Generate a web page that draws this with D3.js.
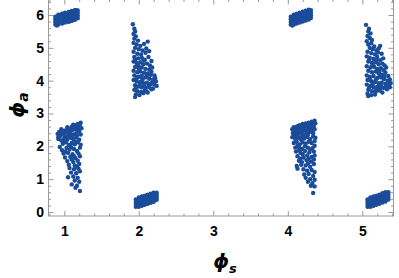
<!DOCTYPE html>
<html><head><meta charset="utf-8">
<script src="https://cdn.jsdelivr.net/npm/d3@7"></script>
<style>body{margin:0;background:#fff}svg{display:block}</style>
</head><body><script>
// ---- data ----
const blobA = [[0.88,5.71],[0.88,5.79],[0.88,5.87],[0.88,5.95],[0.92,5.74],[0.92,5.82],[0.92,5.90],[0.92,5.98],[0.97,5.77],[0.97,5.85],[0.97,5.93],[0.97,6.01],[1.01,5.80],[1.01,5.88],[1.01,5.96],[1.01,6.04],[1.06,5.82],[1.06,5.90],[1.06,5.98],[1.06,6.06],[1.10,5.85],[1.10,5.93],[1.10,6.01],[1.10,6.09],[1.14,5.88],[1.14,5.96],[1.14,6.04],[1.14,6.12],[1.18,5.90],[1.18,5.98],[1.18,6.06],[1.18,6.14],[0.90,5.68],[1.16,6.15],
 [0.92,5.71],[0.92,6.01],[0.97,5.74],[0.97,6.04],[1.01,5.77],[1.01,6.07],[1.06,5.79],[1.06,6.09],[1.10,5.82],[1.10,6.12],[1.14,5.85],[1.14,6.15]];
const blobE = [[4.04,5.71],[4.04,5.79],[4.04,5.87],[4.04,5.95],[4.08,5.74],[4.08,5.82],[4.08,5.90],[4.08,5.98],[4.12,5.77],[4.12,5.85],[4.12,5.93],[4.12,6.01],[4.16,5.80],[4.16,5.88],[4.16,5.96],[4.16,6.04],[4.20,5.83],[4.20,5.91],[4.20,5.99],[4.20,6.07],[4.24,5.86],[4.24,5.94],[4.24,6.02],[4.24,6.10],[4.28,5.89],[4.28,5.97],[4.28,6.05],[4.28,6.13],[4.31,5.91],[4.31,5.99],[4.31,6.07],[4.31,6.15],[4.06,5.68],
 [4.08,5.71],[4.08,6.01],[4.12,5.74],[4.12,6.04],[4.16,5.77],[4.16,6.07],[4.20,5.80],[4.20,6.10],[4.24,5.83],[4.24,6.13],[4.28,5.86],[4.28,6.16]];
const blobD = [[1.96,0.16],[1.96,0.24],[1.96,0.31],[1.96,0.38],[2.00,0.19],[2.00,0.27],[2.00,0.34],[2.00,0.41],[2.04,0.22],[2.04,0.30],[2.04,0.37],[2.04,0.44],[2.08,0.25],[2.08,0.33],[2.08,0.40],[2.08,0.47],[2.12,0.28],[2.12,0.36],[2.12,0.43],[2.12,0.50],[2.16,0.31],[2.16,0.39],[2.16,0.46],[2.16,0.53],[2.20,0.34],[2.20,0.42],[2.20,0.49],[2.20,0.56],[2.24,0.37],[2.24,0.45],[2.24,0.52],[2.24,0.59],
 [2.00,0.16],[2.00,0.44],[2.04,0.19],[2.04,0.47],[2.08,0.22],[2.08,0.50],[2.12,0.25],[2.12,0.53],[2.16,0.28],[2.16,0.56],[2.20,0.31],[2.20,0.59]];
const blobH = [[5.07,0.16],[5.07,0.24],[5.07,0.31],[5.07,0.38],[5.11,0.19],[5.11,0.27],[5.11,0.34],[5.11,0.41],[5.15,0.22],[5.15,0.30],[5.15,0.37],[5.15,0.44],[5.19,0.25],[5.19,0.33],[5.19,0.40],[5.19,0.47],[5.23,0.28],[5.23,0.36],[5.23,0.43],[5.23,0.50],[5.27,0.32],[5.27,0.40],[5.27,0.47],[5.27,0.54],[5.31,0.35],[5.31,0.43],[5.31,0.50],[5.31,0.57],[5.35,0.38],[5.35,0.46],[5.35,0.53],[5.35,0.60],
 [5.11,0.16],[5.11,0.44],[5.15,0.19],[5.15,0.47],[5.19,0.22],[5.19,0.50],[5.23,0.25],[5.23,0.53],[5.27,0.29],[5.27,0.57],[5.31,0.32],[5.31,0.60]];
const spreadB = [[0.91,2.38],[0.93,2.44],[0.95,2.36],[0.97,2.45],[0.99,2.40],[1.01,2.48],[1.03,2.42],[1.05,2.52],[1.07,2.46],[1.09,2.55],[1.11,2.50],[1.13,2.58],[1.15,2.53],[1.17,2.62],[1.19,2.57],[1.21,2.66],[1.22,2.72],[1.18,2.68],[1.14,2.64],[1.10,2.60],[1.20,2.45],[1.16,2.40],[1.12,2.36],[1.06,2.34],[0.94,2.30],[1.00,2.32],[1.08,2.40],[1.23,2.55],[1.22,2.36],[0.92,2.28],
 [0.92,2.22],[0.96,2.18],[1.00,2.24],[1.04,2.20],[1.08,2.26],[1.12,2.22],[1.16,2.28],[1.20,2.20],[0.98,2.08],[1.02,2.12],[1.06,2.04],[1.10,2.10],[1.14,2.06],[1.18,2.12],[1.22,2.05],[0.94,1.98],[1.03,1.95],[1.13,1.92],[1.21,1.96],[0.97,1.88],[1.07,1.90],[1.17,1.86],
 [0.99,1.78],[1.05,1.80],[1.11,1.76],[1.19,1.78],[1.01,1.66],[1.08,1.68],[1.15,1.64],[1.21,1.70],[1.04,1.55],[1.12,1.52],[1.18,1.56],[1.06,1.44],[1.14,1.42],[1.20,1.46],
 [1.07,1.34],[1.13,1.30],[1.19,1.32],[1.09,1.20],[1.16,1.18],[1.21,1.24],[1.05,1.06],[1.12,1.08],[1.18,1.04],[1.14,0.96],[1.20,0.92],[1.10,0.84],[1.17,0.80],[1.15,0.74],[1.21,0.64],
 [0.96,2.52],[1.04,2.58],[1.12,2.66],[1.19,2.49],[0.93,2.36],[1.02,2.28],[1.10,2.31],[1.17,2.33],[0.98,2.14],[1.15,2.15],[1.09,1.98],[1.01,1.84],[1.13,1.70],[1.10,1.60],[1.17,1.38]];
const spreadF = [[4.06,2.52],[4.08,2.58],[4.10,2.50],[4.12,2.60],[4.14,2.54],[4.16,2.64],[4.18,2.56],[4.20,2.68],[4.22,2.60],[4.24,2.70],[4.26,2.62],[4.28,2.72],[4.30,2.66],[4.32,2.75],[4.34,2.68],[4.36,2.78],[4.37,2.70],[4.35,2.60],[4.31,2.56],[4.27,2.52],[4.23,2.48],[4.19,2.44],[4.15,2.46],[4.11,2.42],[4.07,2.40],[4.09,2.34],[4.13,2.36],[4.17,2.38],[4.21,2.34],[4.25,2.40],[4.29,2.44],[4.33,2.48],[4.36,2.52],
 [4.06,2.28],[4.10,2.22],[4.14,2.26],[4.18,2.20],[4.22,2.24],[4.26,2.28],[4.30,2.22],[4.34,2.30],[4.37,2.26],[4.08,2.10],[4.12,2.14],[4.16,2.06],[4.20,2.12],[4.24,2.08],[4.28,2.14],[4.32,2.10],[4.36,2.16],[4.10,1.96],[4.15,1.98],[4.19,1.92],[4.27,1.96],[4.33,1.94],[4.36,2.02],
 [4.11,1.84],[4.17,1.80],[4.23,1.86],[4.29,1.82],[4.35,1.84],[4.13,1.70],[4.21,1.66],[4.26,1.72],[4.32,1.68],[4.36,1.72],[4.15,1.56],[4.19,1.52],[4.25,1.58],[4.31,1.54],[4.35,1.60],[4.12,1.40],[4.18,1.44],[4.24,1.42],[4.30,1.38],[4.35,1.46],[4.13,1.32],[4.21,1.30],
 [4.26,1.26],[4.32,1.28],[4.36,1.22],[4.22,1.14],[4.28,1.16],[4.34,1.10],[4.24,1.04],[4.30,1.00],[4.36,0.98],[4.27,0.92],[4.33,0.88],[4.31,0.80],[4.36,0.78],[4.34,0.58],
 [4.08,2.46],[4.14,2.62],[4.21,2.52],[4.29,2.58],[4.34,2.40],[4.11,2.30],[4.19,2.28],[4.27,2.35],[4.13,2.02],[4.23,2.00],[4.30,1.90],[4.15,1.88],[4.20,1.76],[4.28,1.62],[4.17,1.62],[4.27,1.48]];
const spreadC = [[1.92,5.72],[1.94,5.58],[1.95,5.50],[1.93,5.42],[1.96,5.35],[1.94,5.28],[1.99,5.22],[2.12,5.19],[1.93,5.15],[1.97,5.10],[2.02,5.06],[2.07,5.12],[1.95,5.00],[2.00,4.96],[2.05,4.92],[2.10,4.98],[1.93,4.88],[1.98,4.82],[2.03,4.80],[2.09,4.85],[2.14,4.90],
 [1.94,4.72],[1.99,4.68],[2.04,4.70],[2.08,4.64],[2.13,4.72],[2.17,4.60],[1.93,4.58],[1.97,4.54],[2.02,4.56],[2.06,4.50],[2.11,4.52],[2.15,4.46],[1.95,4.42],[2.00,4.38],[2.04,4.40],[2.09,4.36],[2.14,4.34],[2.18,4.40],[1.93,4.30],[1.98,4.26],[2.02,4.28],
 [2.07,4.24],[2.12,4.22],[2.16,4.18],[2.21,4.16],[1.94,4.16],[1.99,4.12],[2.04,4.14],[2.09,4.10],[2.14,4.06],[2.19,4.04],[2.23,3.98],[1.93,4.02],[1.97,3.98],[2.02,3.96],[2.06,3.92],[2.11,3.94],[2.16,3.90],[2.21,3.88],[2.24,3.84],[1.95,3.86],[2.00,3.82],[2.04,3.80],[2.09,3.78],[2.14,3.80],[2.19,3.76],[1.94,3.72],[1.98,3.68],[2.03,3.66],[2.08,3.70],[2.12,3.64],[2.17,3.74],[1.96,3.58],[2.01,3.56],[2.06,3.62],[1.95,3.50],[2.10,3.68],
 [1.96,3.78],[2.01,3.90],[2.07,3.85],[2.13,3.87],[2.18,3.95],[2.22,4.08],[1.97,4.06],[2.05,4.03],[2.11,4.16],[2.17,4.27],[1.99,4.47],[2.07,4.62],[1.95,4.63],[2.02,4.12]];
const spreadG = [[5.05,5.70],[5.09,5.58],[5.08,5.50],[5.11,5.44],[5.07,5.36],[5.10,5.30],[5.06,5.20],[5.13,5.24],[5.24,5.06],[5.08,5.10],[5.12,5.14],[5.16,5.04],[5.10,5.00],[5.14,4.96],[5.19,4.92],[5.22,4.98],[5.07,4.88],[5.12,4.84],[5.17,4.80],[5.21,4.86],[5.26,4.82],
 [5.06,4.74],[5.10,4.70],[5.15,4.66],[5.20,4.72],[5.24,4.62],[5.28,4.68],[5.08,4.58],[5.13,4.54],[5.18,4.56],[5.22,4.50],[5.27,4.52],[5.30,4.46],[5.06,4.44],[5.11,4.40],[5.16,4.42],[5.20,4.36],[5.25,4.38],[5.29,4.32],[5.32,4.40],[5.08,4.30],[5.13,4.26],[5.18,4.28],
 [5.22,4.22],[5.27,4.18],[5.31,4.24],[5.35,4.14],[5.06,4.16],[5.10,4.12],[5.15,4.14],[5.20,4.08],[5.25,4.10],[5.29,4.04],[5.34,4.00],[5.37,4.04],[5.07,4.02],[5.12,3.98],[5.17,3.96],[5.22,3.92],[5.26,3.94],[5.31,3.90],[5.35,3.86],[5.38,3.92],[5.06,3.88],[5.11,3.84],[5.15,3.80],[5.20,3.82],[5.24,3.76],[5.29,3.78],[5.33,3.74],[5.37,3.80],[5.08,3.72],[5.13,3.68],[5.18,3.66],[5.23,3.70],[5.27,3.64],[5.07,3.60],[5.12,3.56],[5.17,3.58],[5.08,3.53],
 [5.09,3.78],[5.14,3.90],[5.19,3.73],[5.25,3.85],[5.32,3.82],[5.36,3.97],[5.10,4.06],[5.18,4.02],[5.24,4.16],[5.30,4.12],[5.14,4.47],[5.23,4.28],[5.09,4.63],[5.19,4.63]];
const xTickLabels = [1,2,3,4,5];
const yTickLabels = [0,1,2,3,4,5,6];
const xTitle = "ϕ", xSub = "s";
const yTitle = "ϕ", ySub = "a";

// ---- layout ----
const W = 399, H = 278;
const L = 48.5, R = 393.5, T = -0.5, B = 216;
const color = "#1a4c9a", frameColor = "#999";
const x = d3.scaleLinear().domain([1,5]).range([64.3,362.3]);
const y = d3.scaleLinear().domain([0,6]).range([212,15]);
const xMinor = d3.range(8,55,2).map(v=>v/10).filter(v=>x(v)>L && x(v)<R && v%1!==0);
const yMinor = d3.range(-2,65,2).map(v=>v/10).filter(v=>y(v)<B && y(v)>T && Math.abs(v%1)>1e-9);

const svg = d3.select("body").append("svg").attr("width",W).attr("height",H);
svg.append("rect").attr("width",W).attr("height",H).attr("fill","#fff");

const font = "'Liberation Sans', Arial, Helvetica, sans-serif";

function styleAxis(g){
  g.select(".domain").remove();
  g.selectAll(".tick line").attr("stroke",frameColor).attr("stroke-width",1);
  g.selectAll(".tick text").attr("fill","#000").attr("font-family",font).attr("font-size",14).attr("font-weight","bold");
}
svg.append("g").attr("transform",`translate(0,${B})`).call(d3.axisBottom(x).tickValues(xTickLabels).tickSize(-5).tickPadding(10).tickFormat(d3.format("d"))).call(styleAxis);
svg.append("g").attr("transform",`translate(0,${B})`).call(d3.axisBottom(x).tickValues(xMinor).tickSize(-2.5).tickFormat("")).call(styleAxis);
svg.append("g").attr("transform",`translate(0,${T})`).call(d3.axisTop(x).tickValues(xTickLabels).tickSize(-5).tickFormat("")).call(styleAxis);
svg.append("g").attr("transform",`translate(0,${T})`).call(d3.axisTop(x).tickValues(xMinor).tickSize(-2.5).tickFormat("")).call(styleAxis);
svg.append("g").attr("transform",`translate(${L},0)`).call(d3.axisLeft(y).tickValues(yTickLabels).tickSize(-5).tickPadding(4.5).tickFormat(d3.format("d"))).call(styleAxis);
svg.append("g").attr("transform",`translate(${L},0)`).call(d3.axisLeft(y).tickValues(yMinor).tickSize(-2.5).tickFormat("")).call(styleAxis);
svg.append("g").attr("transform",`translate(${R},0)`).call(d3.axisRight(y).tickValues(yTickLabels).tickSize(-5).tickFormat("")).call(styleAxis);
svg.append("g").attr("transform",`translate(${R},0)`).call(d3.axisRight(y).tickValues(yMinor).tickSize(-2.5).tickFormat("")).call(styleAxis);

svg.append("rect").attr("x",L).attr("y",T).attr("width",R-L).attr("height",B-T)
  .attr("fill","none").attr("stroke",frameColor).attr("stroke-width",1);

const clusters = [blobA, blobE, blobD, blobH, spreadB, spreadF, spreadC, spreadG];
const pg = svg.append("g");
clusters.forEach(c=>{
  pg.append("g").selectAll("circle").data(c).join("circle")
    .attr("cx",d=>x(d[0])).attr("cy",d=>y(d[1])).attr("r",2.2).attr("fill",color);
});

const tf = "'DejaVu Sans', 'Liberation Sans', sans-serif";
const xt = svg.append("text").attr("x",225).attr("y",268).attr("text-anchor","middle")
  .attr("font-family",tf).attr("font-weight","bold").attr("font-style","italic").attr("font-size",20);
xt.append("tspan").text(xTitle);
xt.append("tspan").attr("font-size",13).attr("dy",5).text(xSub);

const yt = svg.append("text").attr("transform","translate(23.5,105) rotate(-90)").attr("text-anchor","middle")
  .attr("font-family",tf).attr("font-weight","bold").attr("font-style","italic").attr("font-size",20);
yt.append("tspan").text(yTitle);
yt.append("tspan").attr("font-size",14).attr("dy",4.5).text(ySub);
</script></body></html>
